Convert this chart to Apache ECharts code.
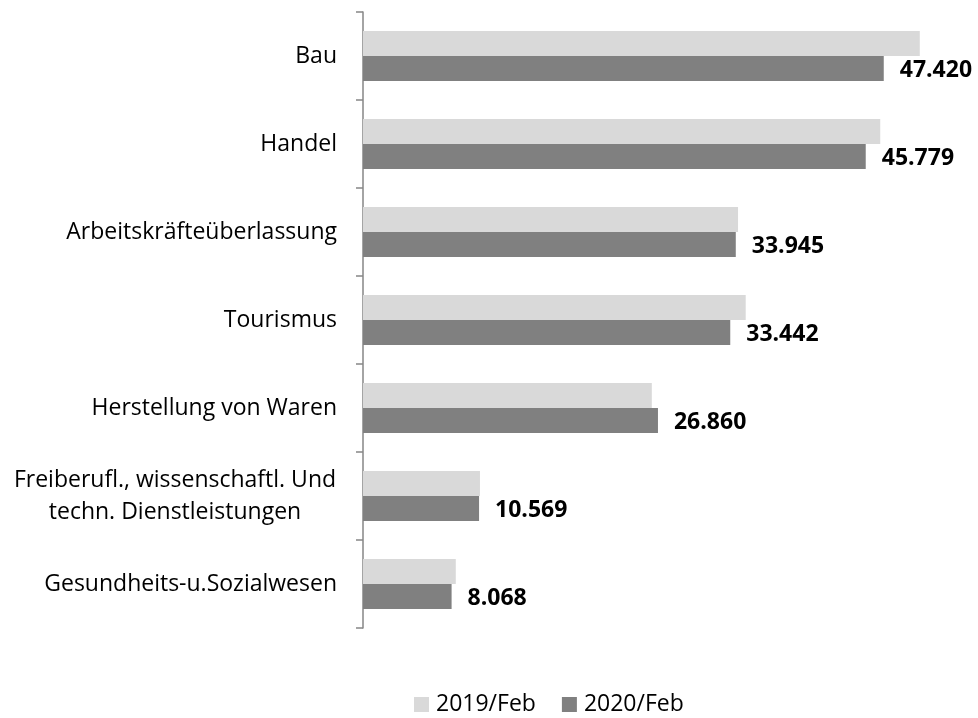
<!DOCTYPE html>
<html>
<head>
<meta charset="utf-8">
<script src="https://cdn.jsdelivr.net/npm/echarts@6/dist/echarts.min.js"></script>
<style>
  html, body { margin: 0; padding: 0; background: #fff; }
  #chart { width: 978px; height: 718px; }
</style>
</head>
<body>
<div id="chart"></div>
<script>
// Branchen, von oben nach unten
var categories = [
  'Bau',
  'Handel',
  'Arbeitskräfteüberlassung',
  'Tourismus',
  'Herstellung von Waren',
  'Freiberufl., wissenschaftl. Und\ntechn. Dienstleistungen',
  'Gesundheits-u.Sozialwesen'
];
var feb2019 = [50700, 47100, 34150, 34850, 26300, 10650, 8450];
var feb2020 = [47420, 45779, 33945, 33442, 26860, 10569, 8068];
var seriesNames = ['2019/Feb', '2020/Feb'];

var FONT = '"Open Sans", "Noto Sans", sans-serif';

function deNum(v) {
  // 47420 -> 47.420
  return String(v).replace(/\B(?=(\d{3})+(?!\d))/g, '.');
}

var chart = echarts.init(document.getElementById('chart'));

chart.setOption({
  animation: false,
  textStyle: { fontFamily: FONT },
  grid: {
    left: 363,
    right: 11,
    top: 12,
    bottom: 90,
    containLabel: false
  },
  legend: {
    data: seriesNames,
    left: 414,
    top: 693,
    padding: 0,
    itemWidth: 15,
    itemHeight: 15,
    itemGap: 26,
    icon: 'rect',
    textStyle: { fontFamily: FONT, fontSize: 23, color: '#000', padding: [0, 0, 0, 2] }
  },
  xAxis: {
    type: 'value',
    min: 0,
    max: 55000,
    show: false
  },
  yAxis: {
    type: 'category',
    data: categories,
    inverse: true,
    axisLine: { show: true, lineStyle: { color: '#868686', width: 1.5 } },
    axisTick: { show: true, inside: false, length: 7, lineStyle: { color: '#868686', width: 1.5 } },
    axisLabel: {
      margin: 26,
      fontFamily: FONT,
      fontSize: 23,
      color: '#000',
      lineHeight: 32,
      formatter: function (val) {
        if (val.indexOf('\n') < 0) return val;
        return val.split('\n').map(function (l) { return '{c|' + l + '}'; }).join('\n');
      },
      rich: {
        c: { width: 324, align: 'center', fontFamily: FONT, fontSize: 23, color: '#000', lineHeight: 32 }
      }
    },
    splitLine: { show: false }
  },
  series: [
    {
      name: seriesNames[0],
      type: 'bar',
      data: feb2019,
      barWidth: 25,
      barGap: '0%',
      itemStyle: { color: '#d9d9d9' }
    },
    {
      name: seriesNames[1],
      type: 'bar',
      data: feb2020,
      barWidth: 25,
      itemStyle: { color: '#808080' },
      label: {
        show: true,
        position: 'right',
        distance: 16,
        offset: [0, 2],
        fontFamily: FONT,
        fontSize: 23,
        fontWeight: 'bold',
        color: '#000',
        formatter: function (p) { return deNum(p.value); }
      }
    }
  ]
});
</script>
</body>
</html>
